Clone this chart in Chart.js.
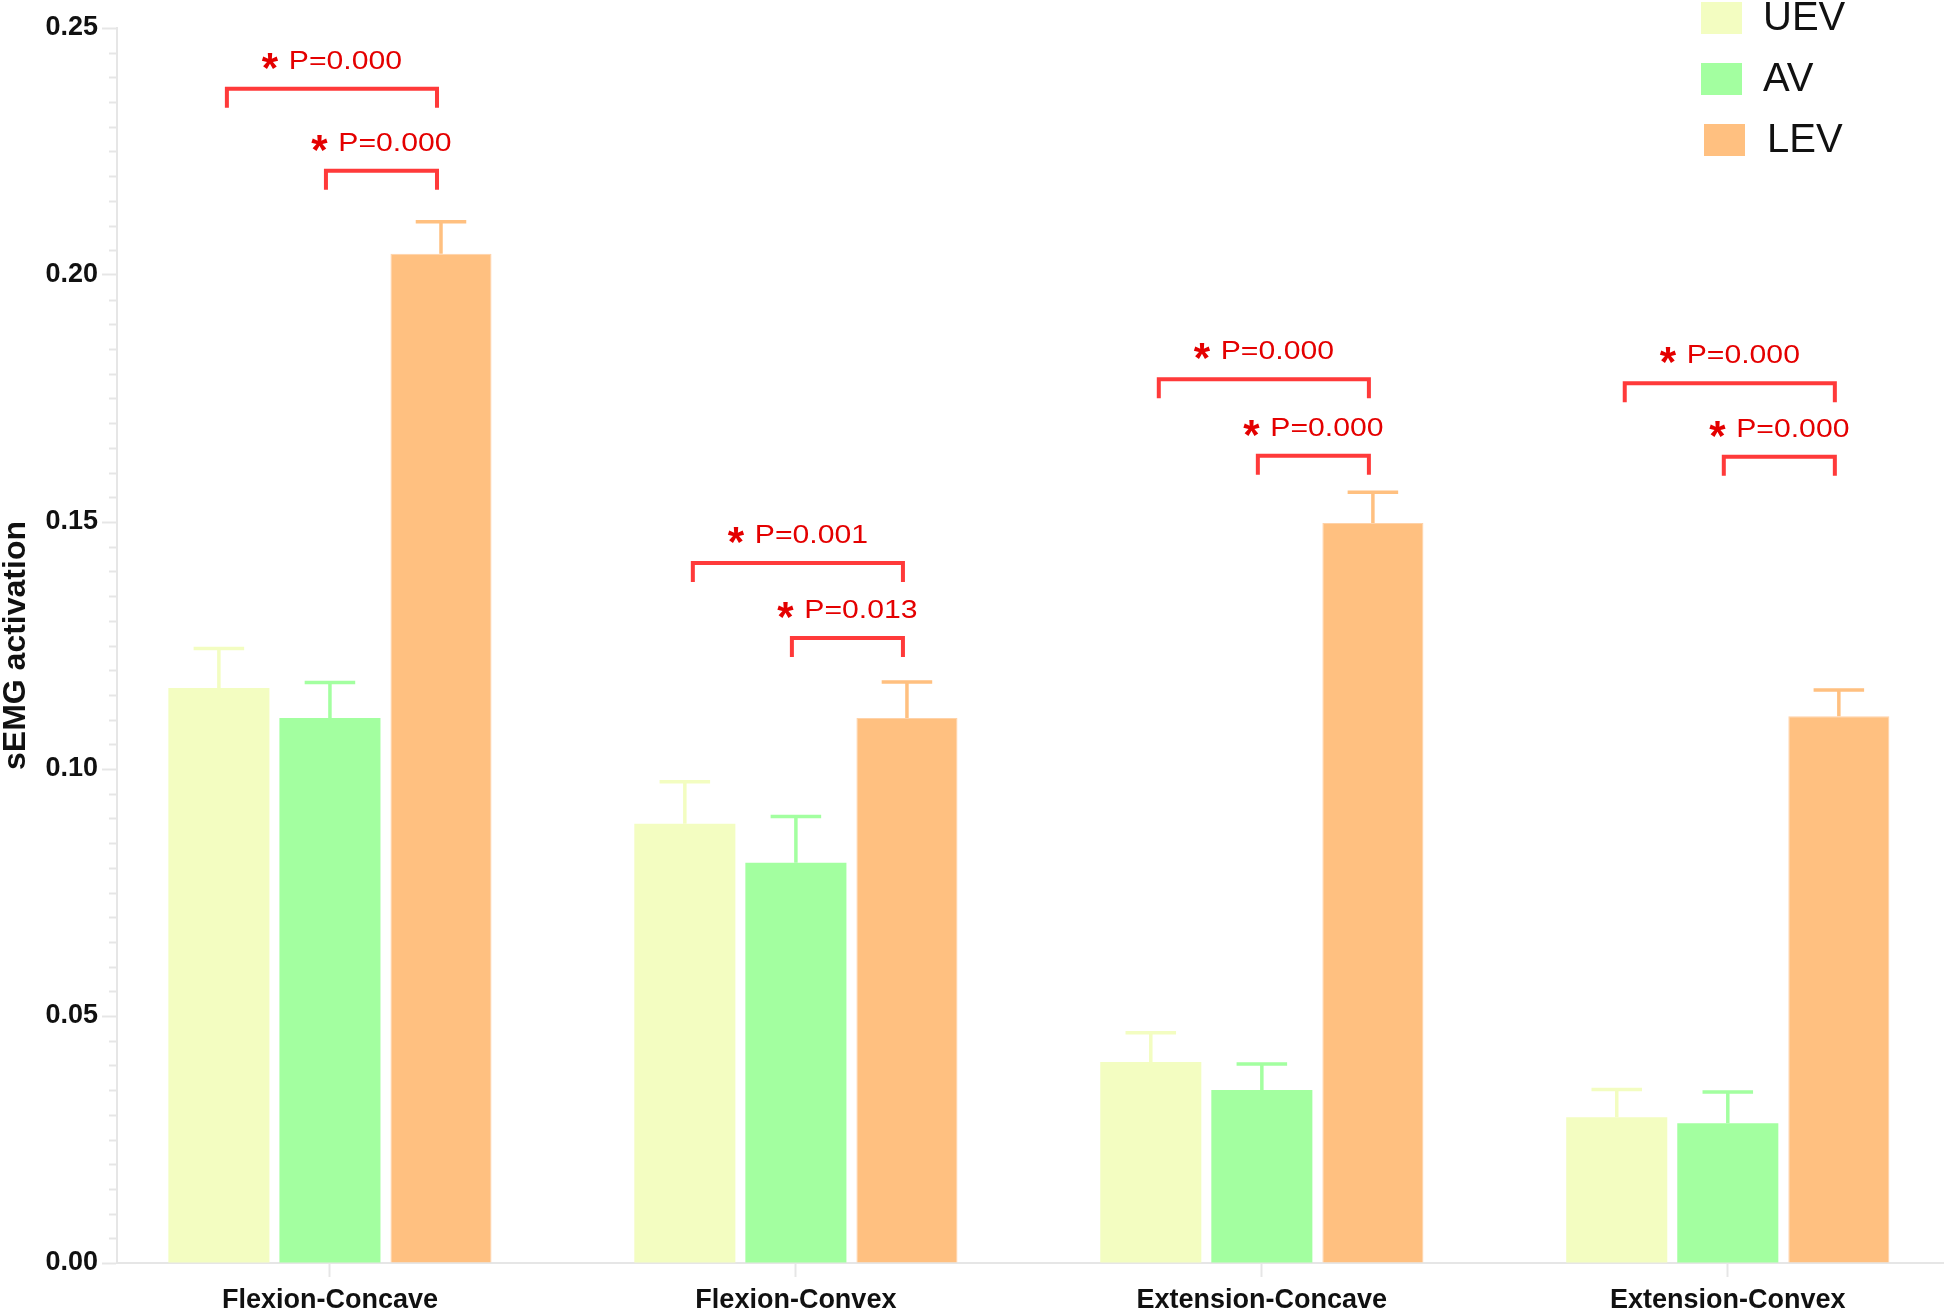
<!DOCTYPE html>
<html>
<head>
<meta charset="utf-8">
<script src="https://cdn.jsdelivr.net/npm/chart.js@4.4.1/dist/chart.umd.min.js"></script>
<style>
html,body{margin:0;padding:0;background:#ffffff;overflow:hidden}
canvas{display:block}
</style>
</head>
<body>
<canvas id="c" width="1944" height="1312"></canvas>
<script>
// ---------------- data ----------------
const categories = ['Flexion-Concave', 'Flexion-Convex', 'Extension-Concave', 'Extension-Convex'];
const seriesNames = ['UEV', 'AV', 'LEV'];

const uevMean = [0.1164, 0.0889, 0.0407, 0.0295];
const uevErr  = [0.0080, 0.0085, 0.0059, 0.0056];
const avMean  = [0.1103, 0.0810, 0.0350, 0.0283];
const avErr   = [0.0072, 0.0094, 0.0053, 0.0063];
const levMean = [0.2043, 0.1103, 0.1498, 0.1107];
const levErr  = [0.0065, 0.0073, 0.0062, 0.0053];

const yTickValues = [0.00, 0.05, 0.10, 0.15, 0.20, 0.25];

// significance brackets: category, from-series, to-series, bracket height, label
const sigCategory = [0, 0, 1, 1, 2, 2, 3, 3];
const sigFrom     = [0, 1, 0, 1, 0, 1, 0, 1];
const sigTo       = [2, 2, 2, 2, 2, 2, 2, 2];
const sigLevel    = [0.2377, 0.2211, 0.1417, 0.1265, 0.1789, 0.1634, 0.1781, 0.1632];
const sigLabel    = ['P=0.000', 'P=0.000', 'P=0.001', 'P=0.013', 'P=0.000', 'P=0.000', 'P=0.000', 'P=0.000'];

// ---------------- styles ----------------
const FONT = '"Liberation Sans", Arial, Helvetica, sans-serif';
const colors = ['rgb(243,253,193)', 'rgb(163,255,160)', 'rgb(255,192,128)'];
const borderColors = ['rgb(243,253,193)', 'rgb(163,255,160)', 'rgb(255,210,168)'];
const axisGray = '#e6e6e6';
const sigRed = 'rgb(255,58,58)';
const sigText = 'rgb(228,0,0)';

const toPoints = arr => arr.map((v, i) => ({ x: i, y: v }));
const means = [uevMean, avMean, levMean];
const errs = [uevErr, avErr, levErr];

const datasets = seriesNames.map((name, k) => ({
  label: name,
  data: toPoints(means[k]),
  errors: errs[k],
  backgroundColor: colors[k],
  borderColor: borderColors[k],
  borderWidth: k === 2 ? 1 : 0,
  categoryPercentage: 0.715,
  barPercentage: 0.91
}));

// ---------------- plugins ----------------
const whiteBg = {
  id: 'whiteBg',
  beforeDraw(chart) {
    const ctx = chart.ctx;
    ctx.save();
    ctx.fillStyle = '#ffffff';
    ctx.fillRect(0, 0, chart.width, chart.height);
    ctx.restore();
  }
};

const minorTicks = {
  id: 'minorTicks',
  afterDraw(chart) {
    const ctx = chart.ctx, ys = chart.scales.y, left = chart.chartArea.left;
    ctx.save();
    ctx.strokeStyle = axisGray;
    ctx.lineWidth = 2;
    for (let k = 0; k <= 50; k++) {
      if (k % 10 === 0) continue;
      const py = Math.round(ys.getPixelForValue(k * 0.005)) + 0.5;
      ctx.beginPath();
      ctx.moveTo(left - 8, py);
      ctx.lineTo(left, py);
      ctx.stroke();
    }
    ctx.restore();
  }
};

const errorBars = {
  id: 'errorBars',
  afterDatasetsDraw(chart) {
    const ctx = chart.ctx, ys = chart.scales.y;
    chart.data.datasets.forEach((ds, i) => {
      const meta = chart.getDatasetMeta(i);
      meta.data.forEach((bar, j) => {
        const topPx = ys.getPixelForValue(ds.data[j].y + ds.errors[j]);
        const half = bar.width / 4;
        ctx.save();
        ctx.strokeStyle = colors[i];
        ctx.lineWidth = 3.5;
        ctx.beginPath();
        ctx.moveTo(bar.x, bar.y);
        ctx.lineTo(bar.x, topPx);
        ctx.moveTo(bar.x - half, topPx);
        ctx.lineTo(bar.x + half, topPx);
        ctx.stroke();
        ctx.restore();
      });
    });
  }
};

const sigBrackets = {
  id: 'sigBrackets',
  afterDatasetsDraw(chart) {
    const ctx = chart.ctx, ys = chart.scales.y;
    for (let n = 0; n < sigCategory.length; n++) {
      const c = sigCategory[n];
      const b1 = chart.getDatasetMeta(sigFrom[n]).data[c];
      const b2 = chart.getDatasetMeta(sigTo[n]).data[c];
      const x1 = b1.x + (sigFrom[n] === 0 ? 8 : -4);
      const x2 = b2.x - 4;
      const py = ys.getPixelForValue(sigLevel[n]);
      ctx.save();
      ctx.strokeStyle = sigRed;
      ctx.lineWidth = 4;
      ctx.lineJoin = 'miter';
      ctx.beginPath();
      ctx.moveTo(x1, py + 19);
      ctx.lineTo(x1, py);
      ctx.lineTo(x2, py);
      ctx.lineTo(x2, py + 19);
      ctx.stroke();

      // label: star + P text, centered above bracket
      const baseY = py - 20;
      const sx = 1.16;
      ctx.font = '26px ' + FONT;
      const tw = ctx.measureText(sigLabel[n]).width * sx;
      ctx.font = 'bold 42px ' + FONT;
      const sm = ctx.measureText('*');
      const starW = sm.actualBoundingBoxRight + sm.actualBoundingBoxLeft;
      const gap = 10;
      const total = starW + gap + tw;
      const startX = (x1 + x2) / 2 - total / 2;
      ctx.fillStyle = sigText;
      ctx.textAlign = 'left';
      ctx.textBaseline = 'alphabetic';
      const starCenterY = baseY - 8;
      const starY = starCenterY - (sm.actualBoundingBoxDescent - sm.actualBoundingBoxAscent) / 2;
      ctx.fillText('*', startX + sm.actualBoundingBoxLeft, starY);
      ctx.font = '26px ' + FONT;
      ctx.translate(startX + starW + gap, baseY);
      ctx.scale(sx, 1);
      ctx.fillText(sigLabel[n], 0, 0);
      ctx.restore();
    }
  }
};

const customLegend = {
  id: 'customLegend',
  afterDraw(chart) {
    const ctx = chart.ctx;
    const rows = [
      { bx: 1701, by: 2, tx: 1763 },
      { bx: 1701, by: 63, tx: 1763 },
      { bx: 1704, by: 124, tx: 1767 }
    ];
    ctx.save();
    chart.data.datasets.forEach((ds, i) => {
      const r = rows[i];
      ctx.fillStyle = colors[i];
      ctx.fillRect(r.bx, r.by, 41, 32);
      ctx.fillStyle = '#111111';
      ctx.font = '40px ' + FONT;
      ctx.textAlign = 'left';
      ctx.textBaseline = 'middle';
      ctx.fillText(ds.label, r.tx, r.by + 17);
    });
    ctx.restore();
  }
};

// ---------------- chart ----------------
new Chart(document.getElementById('c'), {
  type: 'bar',
  data: { datasets },
  options: {
    responsive: false,
    animation: false,
    devicePixelRatio: 1,
    layout: { padding: { top: 28, right: 0, left: 0, bottom: 0 } },
    plugins: {
      legend: { display: false },
      tooltip: { enabled: false }
    },
    scales: {
      x: {
        type: 'linear',
        offset: false,
        min: -0.457,
        max: 3.464,
        afterBuildTicks: (s) => { s.ticks = categories.map((_, i) => ({ value: i })); },
        afterFit: (s) => { s.height = 49; },
        grid: { display: true, drawOnChartArea: false, offset: false, tickLength: 14, tickWidth: 2, tickColor: axisGray },
        border: { display: true, color: axisGray, width: 2 },
        ticks: {
          autoSkip: false,
          maxRotation: 0,
          padding: 7,
          color: '#111111',
          font: { family: FONT, size: 27, weight: 'bold' },
          callback: (v) => categories[v] !== undefined ? categories[v] : ''
        }
      },
      y: {
        min: 0,
        max: 0.25,
        afterBuildTicks: (s) => { s.ticks = yTickValues.map(v => ({ value: v })); },
        afterFit: (s) => { s.width = 117; },
        grid: { display: true, drawOnChartArea: false, tickLength: 15, tickWidth: 2, tickColor: axisGray },
        border: { display: true, color: axisGray, width: 2 },
        ticks: {
          padding: 4,
          color: '#111111',
          font: { family: FONT, size: 27, weight: 'bold' },
          callback: (v) => Number(v).toFixed(2)
        },
        title: {
          display: true,
          text: 'sEMG activation',
          color: '#111111',
          font: { family: FONT, size: 32, weight: 'bold', lineHeight: 1.0 },
          padding: { top: 0, bottom: 0 }
        }
      }
    }
  },
  plugins: [whiteBg, minorTicks, errorBars, sigBrackets, customLegend]
});
</script>
</body>
</html>
